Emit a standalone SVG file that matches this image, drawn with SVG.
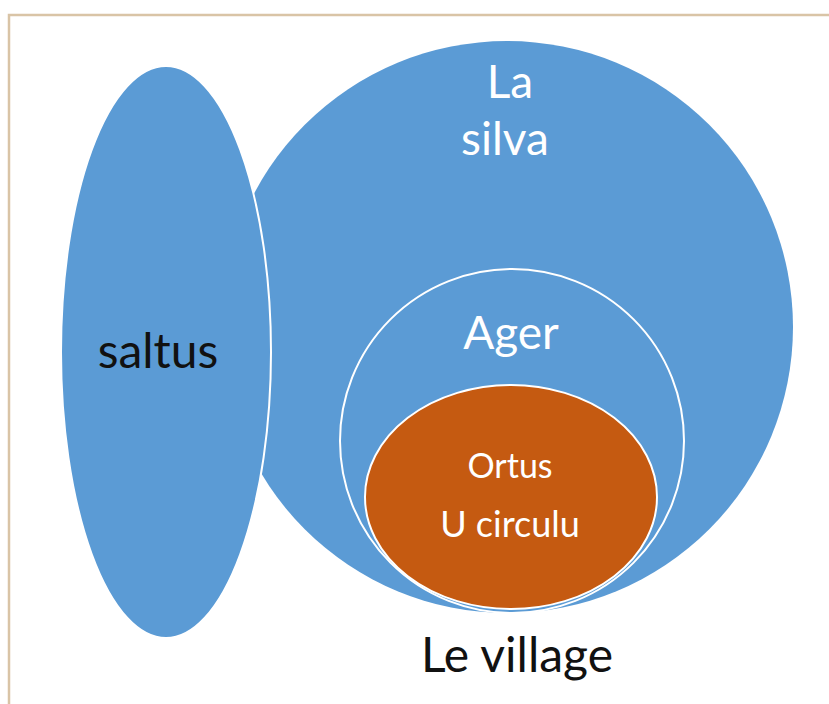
<svg xmlns="http://www.w3.org/2000/svg" width="829" height="704" viewBox="0 0 829 704">
  <style>
    .blue { fill: #5b9bd5; }
    .edge { stroke: #ffffff; stroke-width: 2; }
    .orange { fill: #c55a11; }
    .wt { fill: #ffffff; font-family: Lato, "Open Sans", sans-serif; text-anchor: middle; }
    .bk { fill: #111111; font-family: Lato, "Open Sans", sans-serif; text-anchor: middle; }
  </style>
  <rect width="829" height="704" fill="#ffffff"/>
  <path d="M9 704 V15 H829" fill="none" stroke="#d9c4a6" stroke-width="2.5"/>
  <g id="silva">
    <circle class="blue" cx="507" cy="327" r="286"/>
    <text class="wt" x="510" y="98" font-size="46">La</text>
    <text class="wt" x="505" y="155" font-size="46">silva</text>
  </g>
  <g id="ager">
    <circle class="blue edge" cx="512" cy="441" r="172"/>
    <text class="wt" x="511" y="349" font-size="46">Ager</text>
  </g>
  <g id="ortus">
    <ellipse class="orange edge" cx="511" cy="497" rx="146" ry="112"/>
    <text class="wt" x="510" y="478" font-size="34">Ortus</text>
    <text class="wt" x="510" y="537" font-size="36">U circulu</text>
  </g>
  <g id="saltus">
    <ellipse class="blue edge" cx="166" cy="352" rx="105" ry="286"/>
    <text class="bk" x="158" y="368" font-size="48">saltus</text>
  </g>
  <g id="village">
    <text class="bk" x="517" y="672" font-size="48">Le village</text>
  </g>
  <g id="connectors"/>
</svg>
